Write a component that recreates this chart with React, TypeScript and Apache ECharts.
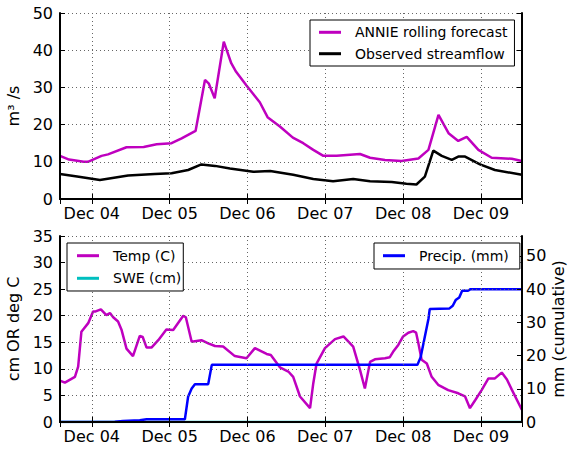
import React, { useEffect, useRef } from "react";
import * as echarts from "echarts";

// hours since Dec 03 00:00 (UTC)
const annieHours = [14.2, 17, 21.5, 22.8, 27, 29, 34.7, 40, 44, 48.6, 51.7, 56, 58.9, 60.1, 61.9, 64.7, 67, 68.5, 71.7, 75.8, 78.2, 82, 86, 89.2, 92.3, 95.4, 99.5, 106.7, 109.8, 114.4, 119.5, 124.7, 127.8, 130.9, 134, 137, 139.6, 143.2, 147.3, 153.5, 156.6];
const annieValues = [11.6, 10.6, 10.0, 10.0, 11.6, 12.0, 13.9, 14.0, 14.7, 15.0, 16.3, 18.3, 32.0, 31.0, 27.1, 42.3, 36.5, 34.2, 30.5, 26.0, 22.0, 19.5, 16.5, 15.0, 13.2, 11.6, 11.6, 12.1, 11.1, 10.5, 10.2, 10.9, 13.2, 22.6, 17.7, 15.6, 16.7, 13.2, 11.1, 10.8, 10.2];

const obsHours = [14.2, 20, 26.5, 35.2, 43.4, 48.6, 53.7, 57.8, 62, 66.6, 73.8, 79, 86.1, 92.3, 98.4, 104.6, 109.8, 116.5, 121, 124.1, 126.7, 129.3, 131.9, 135, 137, 139.1, 143.7, 148.3, 156.6];
const obsValues = [6.7, 6.0, 5.1, 6.3, 6.7, 6.9, 7.8, 9.3, 8.9, 8.2, 7.3, 7.5, 6.5, 5.4, 4.8, 5.4, 4.8, 4.6, 4.1, 3.9, 6.0, 13.0, 11.6, 10.5, 11.4, 11.4, 9.3, 7.8, 6.5];

const tempHours = [14.2, 15.7, 18.8, 19.8, 20.8, 22.9, 24.4, 25.2, 26.8, 28.5, 29.6, 30.6, 32.1, 33.2, 34.7, 36.7, 38.8, 39.7, 40.9, 42.4, 44.5, 47, 49.1, 52.2, 53, 54.8, 57.8, 59.9, 62, 64.5, 68.1, 71.7, 74.3, 77.9, 79.2, 82, 84.6, 86.1, 88.2, 91.3, 92.3, 93.3, 95.9, 99, 101.6, 104.6, 106.7, 108.2, 109.8, 111.3, 114.4, 115.9, 116.9, 118.5, 120, 121.6, 123.1, 124, 124.7, 125.7, 127.3, 128.8, 130.8, 133.9, 137, 139.1, 140.6, 142.2, 144.2, 146.3, 148.3, 150.4, 152, 153.5, 156.6];
const tempValues = [7.8, 7.4, 8.5, 10.4, 17.0, 18.6, 20.8, 20.8, 21.2, 20.1, 20.5, 19.7, 18.9, 17.3, 13.8, 12.4, 16.2, 16.0, 14.0, 14.0, 15.4, 17.4, 17.3, 20.0, 19.7, 15.1, 15.4, 14.8, 14.3, 14.2, 12.4, 12.0, 13.9, 12.8, 12.6, 10.3, 9.5, 8.5, 4.8, 2.6, 7.3, 11.0, 13.9, 15.6, 16.1, 14.2, 9.8, 6.3, 11.3, 11.8, 12.0, 12.2, 13.2, 14.5, 16.1, 16.8, 17.1, 16.8, 14.8, 11.7, 11.0, 8.5, 7.0, 6.0, 5.4, 4.8, 2.6, 4.1, 6.0, 8.2, 8.2, 9.3, 8.0, 6.1, 2.3];

const sweHours = [14.2, 156.6];
const sweValues = [0, 0];

const precipHours = [14.2, 31.1, 33.6, 38.8, 40.9, 52.7, 53.7, 54.8, 55.8, 59.9, 61, 124.4, 125.4, 127.8, 128.2, 134.3, 135.3, 136.2, 137.3, 138.2, 140, 140.8, 156.6];
const precipValues = [0, 0.1, 0.3, 0.5, 0.8, 0.8, 7.6, 10.1, 11.4, 11.4, 17.2, 17.2, 19.5, 31, 34.0, 34.2, 35.0, 36.7, 37.5, 39.5, 39.5, 40.0, 40.0];

const precipTicks = [0, 10, 20, 30, 40, 50];

const BASE = Date.UTC(2014, 11, 3);
const HOUR = 3600000;
const DAY = 24 * HOUR;
const X_MIN = BASE + 14.2 * HOUR;
const X_MAX = BASE + 156.65 * HOUR;

const MAGENTA = "#bf00bf";
const CYAN = "#00bfbf";
const BLUE = "#0000ff";
const FONT = "DejaVu Sans";

const pairs = (h: number[], v: number[]) => h.map((x, i) => [BASE + x * HOUR, v[i]]);

const pad2 = (n: number) => (n < 10 ? "0" + n : "" + n);
const MONTHS = ["Jan", "Feb", "Mar", "Apr", "May", "Jun", "Jul", "Aug", "Sep", "Oct", "Nov", "Dec"];

export default function App() {
  const ref = useRef<HTMLDivElement>(null);
  useEffect(() => {
    if (!ref.current) return;
    const chart = echarts.init(ref.current, undefined, { renderer: "svg" });
    const spine = { show: true, lineStyle: { color: "#000", width: 2 } };
    const tick = { show: true, inside: true, length: 5, lineStyle: { color: "#000", width: 1 } };
    const grid = { show: true, lineStyle: { color: "#666", width: 1, type: [1, 3] as any } };
    const label = { color: "#000", fontSize: 16, fontFamily: FONT };

    const xBottom = (gridIndex: number) => ({
      type: "time",
      gridIndex,
      position: "bottom",
      min: X_MIN,
      max: X_MAX,
      minInterval: DAY,
      maxInterval: DAY,
      axisLine: spine,
      axisTick: tick,
      splitLine: grid,
      axisLabel: {
        ...label,
        margin: 6,
        showMinLabel: false,
        showMaxLabel: false,
        hideOverlap: false,
        formatter: (v: number) => {
          const d = new Date(v);
          return MONTHS[d.getUTCMonth()] + " " + pad2(d.getUTCDate());
        },
      },
      z: 5,
    });
    const xTop = (gridIndex: number) => ({
      type: "time",
      gridIndex,
      position: "top",
      min: X_MIN,
      max: X_MAX,
      minInterval: DAY,
      maxInterval: DAY,
      axisLine: spine,
      axisTick: tick,
      splitLine: { show: false },
      axisLabel: { show: false },
      z: 5,
    });

    const legendBase = {
      orient: "vertical",
      selectedMode: false,
      backgroundColor: "#fff",
      borderColor: "#000",
      borderWidth: 1,
      borderRadius: 0,
      icon: "rect",
      itemWidth: 22,
      itemHeight: 3,
      itemGap: 5.4,
      textStyle: { color: "#000", fontSize: 14, fontFamily: FONT, lineHeight: 16, padding: [0, 0, 0, 9] },
      z: 10,
    };

    chart.setOption({
      animation: false,
      useUTC: true,
      textStyle: { fontFamily: FONT },
      grid: [
        { left: 60, top: 13, right: 47, height: 186, containLabel: false, outerBoundsMode: "none" },
        { left: 60, top: 236, right: 47, height: 186, containLabel: false, outerBoundsMode: "none" },
      ],
      legend: [
        { ...legendBase, left: 310, top: 20, padding: [4.3, 7, 4.3, 9], data: ["ANNIE rolling forecast", "Observed streamflow"] },
        { ...legendBase, left: 67, top: 243, itemGap: 6.6, padding: [4.7, 2, 4.7, 10], data: ["Temp (C)", "SWE (cm)"] },
        { ...legendBase, left: 374, top: 243, padding: [4.7, 11, 5.3, 9], data: ["Precip. (mm)"] },
      ],
      xAxis: [xBottom(0), xTop(0), xBottom(1), xTop(1)],
      yAxis: [
        {
          type: "value",
          gridIndex: 0,
          position: "left",
          min: 0,
          max: 50,
          interval: 10,
          axisLine: spine,
          axisTick: tick,
          splitLine: grid,
          axisLabel: { ...label, margin: 7 },
          name: "m³ /s",
          nameLocation: "middle",
          nameRotate: 90,
          nameGap: 30,
          nameTextStyle: { ...label },
          z: 5,
        },
        {
          type: "value",
          gridIndex: 0,
          position: "right",
          min: 0,
          max: 50,
          interval: 10,
          axisLine: spine,
          axisTick: tick,
          splitLine: { show: false },
          axisLabel: { show: false },
          z: 5,
        },
        {
          type: "value",
          gridIndex: 1,
          position: "left",
          min: 0,
          max: 35,
          interval: 5,
          axisLine: spine,
          axisTick: tick,
          splitLine: grid,
          axisLabel: { ...label, margin: 7 },
          name: "cm OR deg C",
          nameLocation: "middle",
          nameRotate: 90,
          nameGap: 30,
          nameTextStyle: { ...label },
          z: 5,
        },
        {
          type: "value",
          gridIndex: 1,
          position: "right",
          min: 0,
          max: 56,
          axisLine: spine,
          axisTick: { ...tick, customValues: precipTicks },
          splitLine: { show: false },
          axisLabel: {
            ...label,
            margin: 4,
            customValues: precipTicks,
            showMaxLabel: true,
            showMinLabel: true,
            hideOverlap: false,
          },
          name: "mm (cumulative)",
          nameLocation: "middle",
          nameRotate: 90,
          nameGap: 28,
          nameMoveOverlap: false,
          nameTextStyle: { ...label },
          z: 5,
        },
      ],
      series: [
        {
          name: "ANNIE rolling forecast",
          type: "line",
          xAxisIndex: 0,
          yAxisIndex: 0,
          symbol: "none",
          data: pairs(annieHours, annieValues),
          lineStyle: { color: MAGENTA, width: 2.5 },
          itemStyle: { color: MAGENTA },
        },
        {
          name: "Observed streamflow",
          type: "line",
          xAxisIndex: 0,
          yAxisIndex: 0,
          symbol: "none",
          data: pairs(obsHours, obsValues),
          lineStyle: { color: "#000", width: 2.5 },
          itemStyle: { color: "#000" },
        },
        {
          name: "Temp (C)",
          type: "line",
          xAxisIndex: 2,
          yAxisIndex: 2,
          symbol: "none",
          data: pairs(tempHours, tempValues),
          lineStyle: { color: MAGENTA, width: 2.5 },
          itemStyle: { color: MAGENTA },
        },
        {
          name: "SWE (cm)",
          type: "line",
          xAxisIndex: 2,
          yAxisIndex: 2,
          symbol: "none",
          z: 1,
          data: pairs(sweHours, sweValues),
          lineStyle: { color: CYAN, width: 2.5 },
          itemStyle: { color: CYAN },
        },
        {
          name: "Precip. (mm)",
          type: "line",
          xAxisIndex: 2,
          yAxisIndex: 3,
          symbol: "none",
          data: pairs(precipHours, precipValues),
          lineStyle: { color: BLUE, width: 2.5 },
          itemStyle: { color: BLUE },
        },
      ],
    } as any);
    return () => chart.dispose();
  }, []);
  return <div ref={ref} style={{ position: "absolute", left: 0, top: 0, width: 569, height: 471 }} />;
}
